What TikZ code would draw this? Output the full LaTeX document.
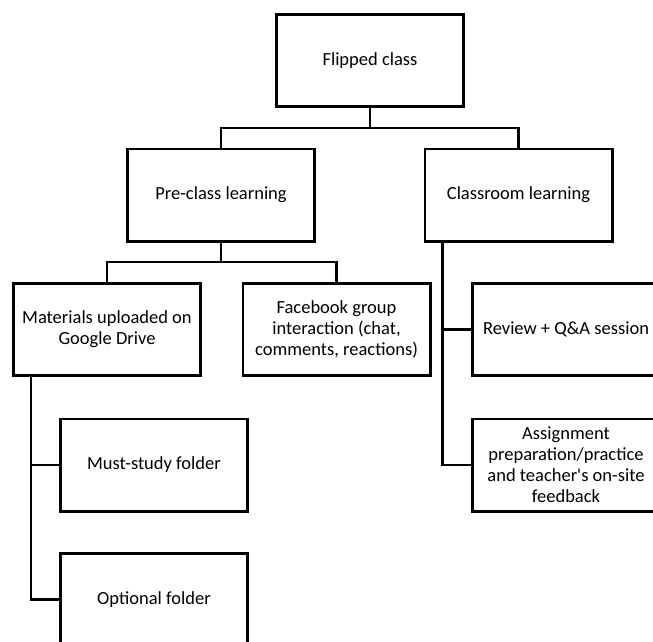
\documentclass[tikz,border=0pt]{standalone}
\usepackage{fontspec}
\setmainfont{Carlito}
\usepackage{tikz}
\tikzset{box/.style={draw, line width=2.7pt, minimum width=187.3pt, minimum height=92.3pt, inner sep=0pt, align=center, font=\fontsize{18.5}{21}\selectfont},
  link/.style={line width=2.7pt}}
\begin{document}
\begin{tikzpicture}[x=1pt,y=-1pt]
    \clip (0,0) rectangle (653,641);
    \node[box] (flip) at (370,60.5) {Flipped class};
    \node[box] (pre) at (221,195) {Pre-class learning};
    \node[box] (room) at (518.5,195) {Classroom learning};
    \node[box] (drive) at (107,329.5) {Materials uploaded on\\Google Drive};
    \node[box] (fb) at (336.5,329.5) {Facebook group\\interaction (chat,\\comments, reactions)};
    \node[box] (qa) at (566,329.5) {Review + Q\&A session};
    \node[box] (must) at (154,465) {Must-study folder};
    \node[box] (opt) at (154,599.5) {Optional folder};
    \node[box] (task) at (566,465) {Assignment\\preparation/practice\\and teacher\textquotesingle s on-site\\feedback};
    \coordinate (j_1) at (370,128);
    \coordinate (j_2) at (221,262);
    \draw[link] (flip.south) -- (j_1) -| (pre.north);
    \draw[link] (j_1) -| (room.north);
    \draw[link] (pre.south) -- (j_2) -| (drive.north);
    \draw[link] (j_2) -| (fb.north);
    \draw[link] ([xshift=19pt]room.south west) |- (qa.west);
    \draw[link] ([xshift=19pt]room.south west) |- (task.west);
    \draw[link] ([xshift=19pt]drive.south west) |- (must.west);
    \draw[link] ([xshift=19pt]drive.south west) |- (opt.west);
\end{tikzpicture}
\end{document}
